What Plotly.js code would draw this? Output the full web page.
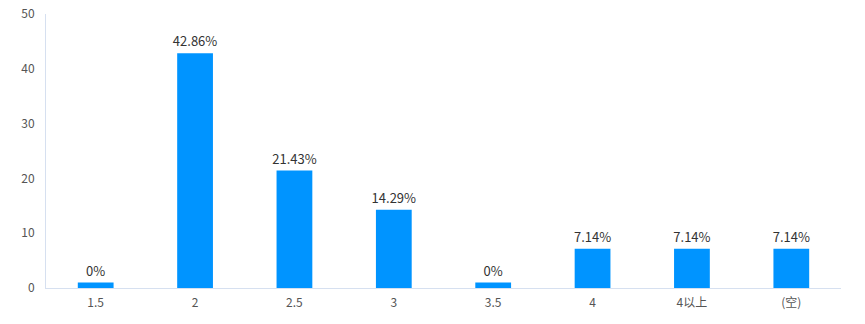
<!DOCTYPE html>
<html><head><meta charset="utf-8">
<script src="https://cdn.plot.ly/plotly-3.0.1.min.js"></script>
<style>body{margin:0;padding:0;background:#fff}#chart{width:865px;height:324px}</style>
</head><body><div id="chart"></div>
<script>
const categories = ['1.5', '2', '2.5', '3', '3.5', '4', '4以上', '(空)'];
const percentValues = [0, 42.86, 21.43, 14.29, 0, 7.14, 7.14, 7.14];
// zero-percent bars are shown with a minimal visible height in the reference
const barHeights = [1, 42.86, 21.43, 14.29, 1, 7.14, 7.14, 7.14];
const barLabels = ['0%', '42.86%', '21.43%', '14.29%', '0%', '7.14%', '7.14%', '7.14%'];
const yTicks = [0, 10, 20, 30, 40, 50];

const fontFam = '"Noto Sans CJK SC", "Noto Sans", sans-serif';
Plotly.newPlot('chart', [{
  type: 'bar',
  x: categories,
  y: barHeights,
  text: barLabels,
  customdata: percentValues,
  textposition: 'outside',
  constraintext: 'none',
  textfont: {family: fontFam, size: 13, color: '#333333'},
  cliponaxis: false,
  marker: {color: '#0094ff', line: {width: 0}},
  hoverinfo: 'none'
}], {
  width: 865, height: 324,
  margin: {l: 46, r: 24, t: 14, b: 36},
  paper_bgcolor: '#ffffff', plot_bgcolor: '#ffffff',
  bargap: 0.64,
  showlegend: false,
  font: {family: fontFam, size: 12, color: '#555555'},
  xaxis: {
    type: 'category',
    showgrid: false, zeroline: false,
    showline: true, linecolor: '#d6e0f0', linewidth: 1,
    ticks: 'outside', ticklen: 4, tickcolor: 'rgba(0,0,0,0)',
    tickfont: {family: fontFam, size: 12, color: '#555555'}
  },
  yaxis: {
    range: [0, 50], tickvals: yTicks,
    showgrid: false, zeroline: false,
    showline: true, linecolor: '#d6e0f0', linewidth: 1,
    ticks: 'outside', ticklen: 8, tickcolor: 'rgba(0,0,0,0)',
    tickfont: {family: fontFam, size: 12, color: '#555555'}
  }
}, {staticPlot: true});
</script></body></html>
